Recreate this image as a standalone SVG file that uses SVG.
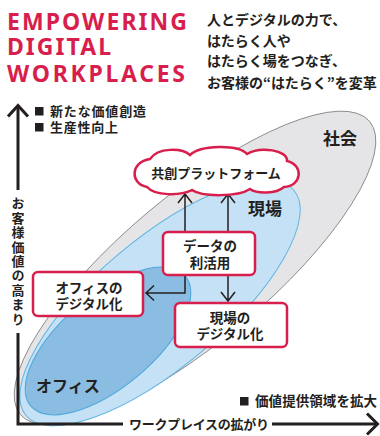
<svg xmlns="http://www.w3.org/2000/svg" width="380" height="436" viewBox="0 0 380 436">
<style>
.jp{font-family:"Noto Sans CJK JP","Noto Sans",sans-serif;font-weight:700;fill:#231f20}
.title{font-family:"Noto Sans","Open Sans",sans-serif;font-weight:700;fill:#d81e4c;font-size:23px}
.box{fill:#fff;stroke:#d81e4c;stroke-width:2.5}
.conn{fill:none;stroke:#231f20;stroke-width:1.5}
.axis{fill:none;stroke:#231f20;stroke-width:3}
</style>
<rect width="380" height="436" fill="#fff"/>

<g id="title">
<text class="title" x="7" y="30" textLength="180" lengthAdjust="spacing">EMPOWERING</text>
<text class="title" x="7" y="55" textLength="104" lengthAdjust="spacing">DIGITAL</text>
<text class="title" x="7" y="81.5" textLength="178" lengthAdjust="spacing">WORKPLACES</text>
</g>
<g id="tagline" class="jp" font-size="14">
<text x="207" y="24.5">人とデジタルの力で、</text>
<text x="207" y="45.5">はたらく人や</text>
<text x="207" y="66">はたらく場をつなぎ、</text>
<text x="207" y="87.5">お客様の“はたらく”を変革</text>
</g>

<g id="society">
<ellipse cx="195" cy="268" rx="228" ry="73" transform="rotate(-40 195 268)" fill="#e5e5e7" stroke="#7d7d7d" stroke-width="0.8"/>
<text class="jp" x="323" y="144.5" font-size="17">社会</text>
</g>
<g id="genba">
<ellipse cx="160" cy="303" rx="175" ry="64" transform="rotate(-40 160 303)" fill="#c4e1f5" stroke="#5eb4e4" stroke-width="1"/>
<text class="jp" x="248" y="214.5" font-size="17">現場</text>
</g>
<g id="office">
<ellipse cx="108" cy="341" rx="101" ry="46" transform="rotate(-40 108 341)" fill="#8abde1" stroke="#4aa6dc" stroke-width="1"/>
<text class="jp" x="36" y="392" font-size="16">オフィス</text>
</g>

<g id="axes">
<polyline class="axis" points="18,190 18,106"/>
<polyline class="axis" points="8,116.5 18,105.5 28,116.5"/>
<polyline class="axis" points="18,333 18,424 123,424"/>
<polyline class="axis" points="272,424 377,424"/>
<polyline class="axis" points="367,413.5 377.5,424 367,434.5"/>
<text class="jp" x="18" y="197" font-size="13" letter-spacing="1.4" writing-mode="vertical-rl">お客様価値の高まり</text>
<text class="jp" x="129" y="429" font-size="13" textLength="140" lengthAdjust="spacing">ワークプレイスの拡がり</text>
</g>

<g id="legend">
<rect x="35" y="107" width="8.5" height="8.5" fill="#231f20"/>
<text class="jp" x="50" y="115.5" font-size="13" textLength="96" lengthAdjust="spacing">新たな価値創造</text>
<rect x="35" y="123" width="8.5" height="8.5" fill="#231f20"/>
<text class="jp" x="50" y="131.5" font-size="13" textLength="68" lengthAdjust="spacing">生産性向上</text>
<rect x="240" y="397" width="8.5" height="8.5" fill="#231f20"/>
<text class="jp" x="255" y="406" font-size="13.5" textLength="122" lengthAdjust="spacing">価値提供領域を拡大</text>
</g>

<g id="connectors">
<path class="conn" d="M185,232 V194 M178,203 L185,194 L192,203"/>
<path class="conn" d="M228,232 V194 M221,203 L228,194 L235,203"/>
<path class="conn" d="M228,275 V301 M221,292 L228,301 L235,292"/>
<path class="conn" d="M185,275 V293 H146 M154,285.5 L146,293 L154,300.5"/>
</g>

<g id="platform">
<path class="box" d="M147,187 C130,184 130,162 150,159 C158,147 182,148 190,155 C200,145 238,144 247,154 C260,146 288,150 287,161 C304,165 302,186 284,187 C276,194 257,194 250,189 C238,197 202,197 192,190 C180,196 155,196 147,187 Z"/>
<text class="jp" x="216" y="178" font-size="13" text-anchor="middle">共創プラットフォーム</text>
</g>
<g id="data">
<rect class="box" x="163" y="232" width="92" height="43" rx="5"/>
<text class="jp" x="210" y="251" font-size="13.5" text-anchor="middle">データの</text>
<text class="jp" x="210" y="267.5" font-size="13.5" text-anchor="middle">利活用</text>
</g>
<g id="genba-dx">
<rect class="box" x="175" y="303" width="112" height="44" rx="5"/>
<text class="jp" x="230" y="323" font-size="13.5" text-anchor="middle">現場の</text>
<text class="jp" x="230" y="339" font-size="13.5" text-anchor="middle">デジタル化</text>
</g>
<g id="office-dx">
<rect class="box" x="33" y="272" width="110" height="44" rx="5"/>
<text class="jp" x="89" y="292.5" font-size="13.5" text-anchor="middle">オフィスの</text>
<text class="jp" x="89" y="308.5" font-size="13.5" text-anchor="middle">デジタル化</text>
</g>
</svg>
